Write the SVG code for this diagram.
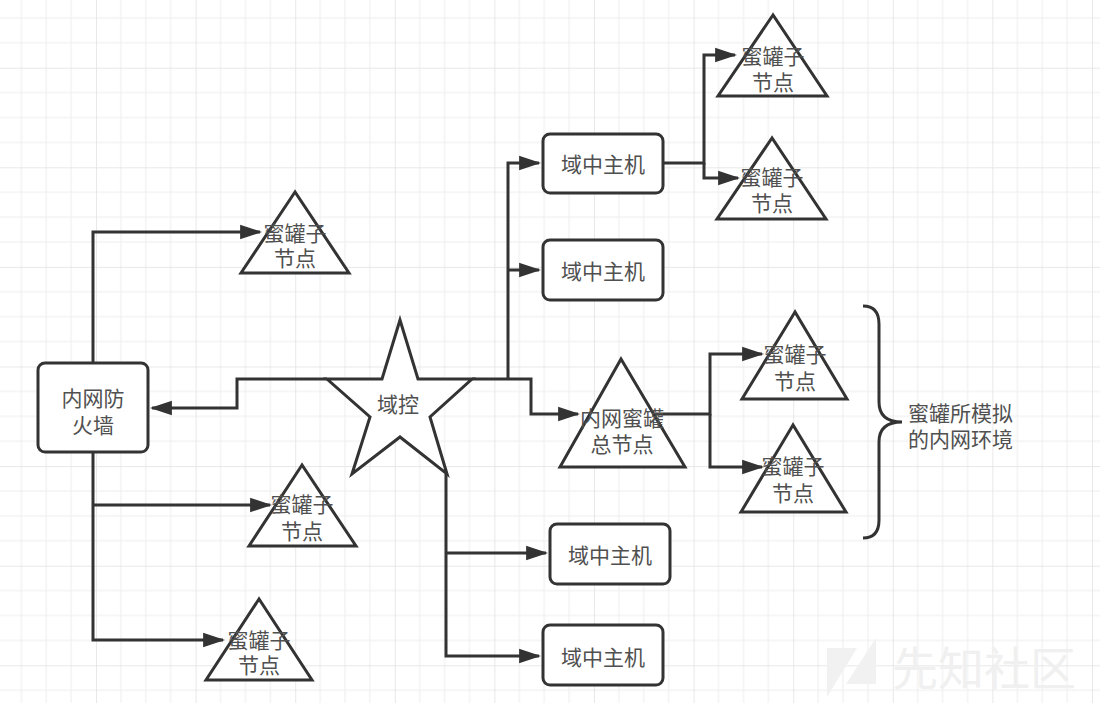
<svg xmlns="http://www.w3.org/2000/svg" width="1100" height="703" viewBox="0 0 1100 703">
<defs>
<pattern id="grid" patternUnits="userSpaceOnUse" x="96" y="67.7" width="99.6" height="99.6">
<rect x="0" y="0" width="99.6" height="99.6" fill="#ffffff"/>
<rect x="24.4" y="0" width="1" height="99.6" fill="#eeeeee"/>
<rect x="49.3" y="0" width="1" height="99.6" fill="#eeeeee"/>
<rect x="74.2" y="0" width="1" height="99.6" fill="#eeeeee"/>
<rect x="0" y="24.4" width="99.6" height="1" fill="#eeeeee"/>
<rect x="0" y="49.3" width="99.6" height="1" fill="#eeeeee"/>
<rect x="0" y="74.2" width="99.6" height="1" fill="#eeeeee"/>
<rect x="-0.6" y="0" width="1.4" height="99.6" fill="#e3e3e3"/>
<rect x="0" y="-0.6" width="99.6" height="1.4" fill="#e3e3e3"/>
</pattern>
<marker id="arr" markerUnits="userSpaceOnUse" markerWidth="22" markerHeight="16" refX="19" refY="7" orient="auto" viewBox="0 0 21 14">
<path d="M0,0 L21,7 L0,14 Z" fill="#333333"/>
</marker>
<style>
.shape{fill:#ffffff;stroke:#333333;stroke-width:3;stroke-linejoin:miter}
.box{fill:#ffffff;stroke:#333333;stroke-width:3}
.line{fill:none;stroke:#333333;stroke-width:3}
.lbl{font-family:"Noto Sans CJK SC","Noto Sans",sans-serif;font-size:21px;fill:#505050;text-anchor:middle;dominant-baseline:central}
.note{font-family:"Noto Sans CJK SC","Noto Sans",sans-serif;font-size:21px;fill:#505050;dominant-baseline:central}
.wm{font-family:"Noto Sans CJK SC",sans-serif;font-size:46px;fill:#f0f0f0}
</style>
</defs>
<rect x="0" y="0" width="1100" height="703" fill="url(#grid)"/>

<g id="watermark">
<polygon points="827,648 857,648 827,697" fill="#f1f1f1"/>
<polygon points="876,638 876,684 846,684" fill="#f1f1f1"/>
<text class="wm" x="892" y="685">先知社区</text>
</g>

<g id="connectors">
<path class="line" d="M327,379 H237 V408 H152" marker-end="url(#arr)"/>
<path class="line" d="M472,379 H531 V414 H578" marker-end="url(#arr)"/>
<path class="line" d="M508,379 V163 H539" marker-end="url(#arr)"/>
<path class="line" d="M508,270 H539" marker-end="url(#arr)"/>
<path class="line" d="M446,474 V656 H539" marker-end="url(#arr)"/>
<path class="line" d="M446,553 H546" marker-end="url(#arr)"/>
<path class="line" d="M93,363 V232 H260" marker-end="url(#arr)"/>
<path class="line" d="M93,452 V640 H223" marker-end="url(#arr)"/>
<path class="line" d="M93,505 H270" marker-end="url(#arr)"/>
<path class="line" d="M663,163 H704 V55 H735" marker-end="url(#arr)"/>
<path class="line" d="M704,163 V178 H738" marker-end="url(#arr)"/>
<path class="line" d="M655,414 H710 V354 H762" marker-end="url(#arr)"/>
<path class="line" d="M710,414 V467 H762" marker-end="url(#arr)"/>
</g>

<g id="firewall">
<rect class="box" x="38" y="363" width="110" height="89" rx="7"/>
<text class="lbl" x="93" y="397">内网防</text>
<text class="lbl" x="93" y="424">火墙</text>
</g>

<g id="dc">
<polygon class="shape" points="400,320 418,379 472,379 430,417 447,474 400,437 352,474 370,417 327,379 382,379"/>
<text class="lbl" x="398" y="403">域控</text>
</g>

<g id="host1">
<rect class="box" x="543" y="134" width="120" height="59" rx="7"/>
<text class="lbl" x="603" y="163">域中主机</text>
</g>
<g id="host2">
<rect class="box" x="543" y="240" width="120" height="60" rx="7"/>
<text class="lbl" x="603" y="270">域中主机</text>
</g>
<g id="host3">
<rect class="box" x="550" y="524" width="120" height="60" rx="7"/>
<text class="lbl" x="610" y="554">域中主机</text>
</g>
<g id="host4">
<rect class="box" x="543" y="625" width="120" height="60" rx="7"/>
<text class="lbl" x="603" y="656">域中主机</text>
</g>

<g id="honey1">
<polygon class="shape" points="295,192 241,273 349,273"/>
<text class="lbl" x="295" y="232">蜜罐子</text>
<text class="lbl" x="295" y="257">节点</text>
</g>
<g id="honey2">
<polygon class="shape" points="773,15 718,96 827,96"/>
<text class="lbl" x="773" y="55">蜜罐子</text>
<text class="lbl" x="773" y="81">节点</text>
</g>
<g id="honey3">
<polygon class="shape" points="772,138 717,219 826,219"/>
<text class="lbl" x="772" y="176">蜜罐子</text>
<text class="lbl" x="772" y="202">节点</text>
</g>
<g id="honeyMaster">
<polygon class="shape" points="621,359 560,467 685,467"/>
<text class="lbl" x="622" y="417">内网蜜罐</text>
<text class="lbl" x="622" y="443">总节点</text>
</g>
<g id="honey4">
<polygon class="shape" points="795,312 742,399 847,399"/>
<text class="lbl" x="795" y="353">蜜罐子</text>
<text class="lbl" x="795" y="380">节点</text>
</g>
<g id="honey5">
<polygon class="shape" points="793,425 741,512 846,512"/>
<text class="lbl" x="793" y="465">蜜罐子</text>
<text class="lbl" x="793" y="492">节点</text>
</g>
<g id="honey6">
<polygon class="shape" points="302,465 249,546 356,546"/>
<text class="lbl" x="302" y="503">蜜罐子</text>
<text class="lbl" x="302" y="530">节点</text>
</g>
<g id="honey7">
<polygon class="shape" points="259,599 206,680 312,680"/>
<text class="lbl" x="259" y="639">蜜罐子</text>
<text class="lbl" x="259" y="664">节点</text>
</g>

<g id="brace">
<path class="line" d="M863,306 Q879,306 879,324 V402 Q879,422 902,422 Q879,422 879,442 V520 Q879,538 863,538"/>
<text class="note" x="908" y="412">蜜罐所模拟</text>
<text class="note" x="908" y="438">的内网环境</text>
</g>
</svg>
